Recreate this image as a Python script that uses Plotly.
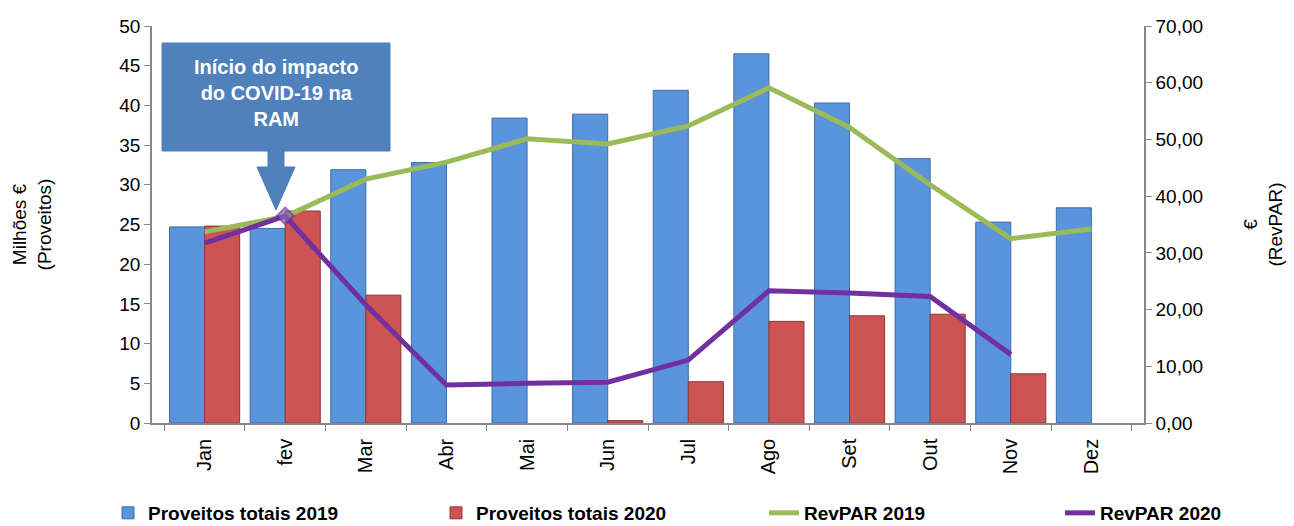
import plotly.graph_objects as go

months = ["Jan", "fev", "Mar", "Abr", "Mai", "Jun", "Jul", "Ago", "Set", "Out", "Nov", "Dez"]
proveitos_2019 = [24.7, 24.5, 31.9, 32.8, 38.4, 38.9, 41.9, 46.5, 40.3, 33.3, 25.3, 27.1]
proveitos_2020 = [24.8, 26.7, 16.1, None, None, 0.3, 5.2, 12.8, 13.5, 13.7, 6.2, None]
revpar_2019 = [33.7, 36.4, 43.0, 46.0, 50.1, 49.2, 52.4, 59.1, 52.1, 42.0, 32.5, 34.2]
revpar_2020 = [31.7, 36.5, 20.8, 6.7, 7.0, 7.2, 11.1, 23.3, 22.9, 22.3, 12.1, None]
left_ticks = list(range(0, 51, 5))
right_ticks = list(range(0, 71, 10))

FONT = "Liberation Sans, Arial, sans-serif"

L, R, T, B = 152, 1144, 26, 423
W, H = R - L, B - T
def px(x): return (x - L) / W
def py(y): return (B - y) / H

fig = go.Figure()
fig.add_trace(go.Bar(x=months, y=proveitos_2019, name="<b>Proveitos totais 2019</b>",
                     marker=dict(color="#5A94DA", line=dict(color="#3D6EAA", width=1))))
fig.add_trace(go.Bar(x=months, y=proveitos_2020, name="<b>Proveitos totais 2020</b>",
                     marker=dict(color="#CC5453", line=dict(color="#8E3837", width=1))))
fig.add_trace(go.Scatter(x=months, y=revpar_2019, name="<b>RevPAR 2019</b>", yaxis="y2",
                         mode="lines", line=dict(color="#9BBB59", width=5)))
marker_sizes = [0] * len(months)
marker_sizes[1] = 13
fig.add_trace(go.Scatter(x=months, y=revpar_2020, name="<b>RevPAR 2020</b>", yaxis="y2",
                         mode="lines+markers", line=dict(color="#7030A0", width=5),
                         legend="legend2",
                         marker=dict(symbol="diamond", size=marker_sizes, color="#8A68B4",
                                     line=dict(color="#7030A0", width=2))))

# Callout box with downward block arrow
fig.add_shape(type="rect", xref="paper", yref="paper",
              x0=px(162), x1=px(390), y0=py(151), y1=py(43),
              fillcolor="#4F81BD", line=dict(color="#4A7EBB", width=1), layer="above")
path = (f"M {px(268)},{py(150)} L {px(284)},{py(150)} L {px(284)},{py(167)} "
        f"L {px(295)},{py(167)} L {px(276)},{py(210)} L {px(257)},{py(167)} "
        f"L {px(268)},{py(167)} Z")
fig.add_shape(type="path", xref="paper", yref="paper", path=path,
              fillcolor="#4F81BD", line=dict(color="#4A7EBB", width=1), layer="above")
fig.add_annotation(xref="paper", yref="paper", x=px(276), y=py(93),
                   text="<b>Início do impacto<br>do COVID-19 na<br>RAM</b>",
                   showarrow=False, font=dict(family=FONT, size=20, color="white"),
                   align="center", xanchor="center", yanchor="middle")

legend_common = dict(orientation="h", y=py(513), yanchor="middle",
                     entrywidth=283, entrywidthmode="pixels",
                     font=dict(family=FONT, size=19, color="black"),
                     bgcolor="rgba(0,0,0,0)")

fig.update_layout(
    width=1294, height=526,
    margin=dict(l=L, r=1294 - R, t=T, b=526 - B, autoexpand=False),
    plot_bgcolor="white", paper_bgcolor="white",
    separators=",.",
    font=dict(family=FONT, size=19, color="black"),
    barmode="group", bargap=0.13, bargroupgap=0,
    showlegend=True,
    legend=dict(x=px(108), xanchor="left", traceorder="normal", **legend_common),
    legend2=dict(x=px(1060), xanchor="left", **legend_common),
    xaxis=dict(type="category", tickangle=-90, showline=True, linecolor="#868686",
               linewidth=1.5, ticks="outside", tickson="boundaries", ticklen=6,
               tickcolor="#868686", showgrid=False, tickfont=dict(size=20),
               ticklabelstandoff=6),
    yaxis=dict(range=[0, 50], tickvals=left_ticks, showline=True, linecolor="#868686",
               linewidth=1.5, ticks="outside", ticklen=6, tickcolor="#868686",
               showgrid=False, zeroline=False, tickfont=dict(size=19),
               title=dict(text="Milhões €<br>(Proveitos)", standoff=63,
                          font=dict(size=19))),
    yaxis2=dict(range=[0, 70], tickvals=right_ticks, tickformat=".2f", overlaying="y",
                side="right", showline=True, linecolor="#868686", linewidth=1.5,
                ticks="outside", ticklen=6, tickcolor="#868686", showgrid=False,
                zeroline=False, tickfont=dict(size=19),
                title=dict(text="€<br>(RevPAR)", standoff=42, font=dict(size=19))),
)

fig.write_html("out.html")
